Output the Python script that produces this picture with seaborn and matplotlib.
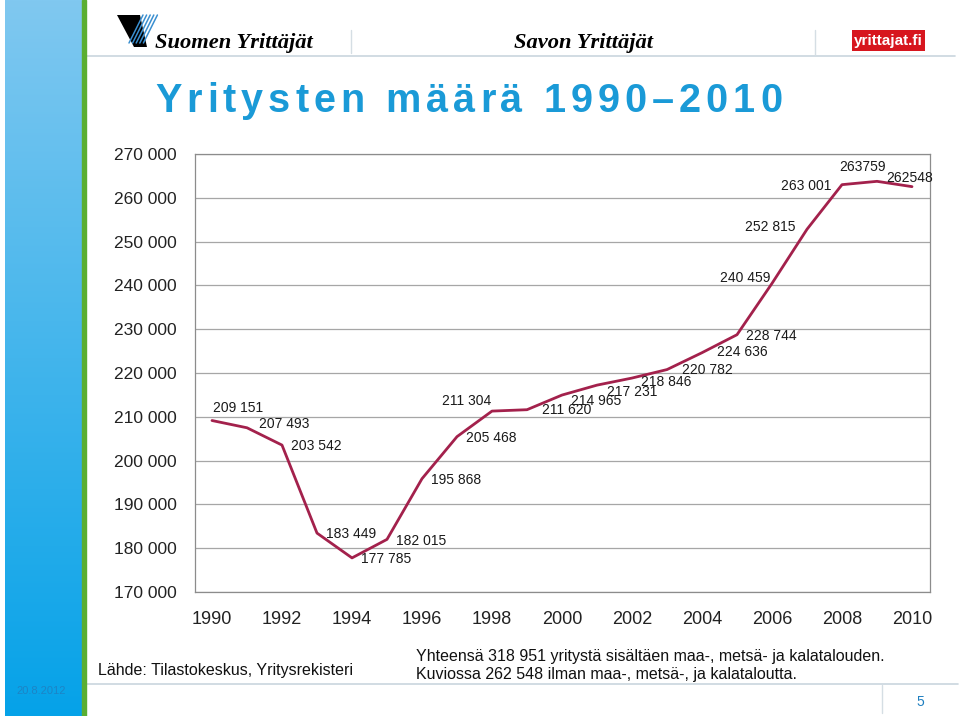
import matplotlib
matplotlib.use("Agg")
import matplotlib.pyplot as plt
import matplotlib.patches as mpatches
import matplotlib.lines as mlines
import numpy as np
import pandas as pd
import seaborn as sns

# ---- data ----
years = list(range(1990, 2011))
companies = [209151, 207493, 203542, 183449, 177785, 182015, 195868, 205468,
             211304, 211620, 214965, 217231, 218846, 220782, 224636, 228744,
             240459, 252815, 263001, 263759, 262548]
value_labels = ["209 151", "207 493", "203 542", "183 449", "177 785", "182 015",
                "195 868", "205 468", "211 304", "211 620", "214 965", "217 231",
                "218 846", "220 782", "224 636", "228 744", "240 459", "252 815",
                "263 001", "263759", "262548"]
y_ticks = [170000, 180000, 190000, 200000, 210000, 220000, 230000, 240000,
           250000, 260000, 270000]
x_ticks = list(range(1990, 2011, 2))

title = "Yritysten määrä 1990–2010"
source = "Lähde: Tilastokeskus, Yritysrekisteri"
note1 = "Yhteensä 318 951 yritystä sisältäen maa-, metsä- ja kalatalouden."
note2 = "Kuviossa 262 548 ilman maa-, metsä-, ja kalataloutta."

# label offsets in pixels (dx right, dy up)
label_offsets = [(26, 13), (37, 4), (34, -1), (34, -1), (34, -1), (34, -1.5),
                 (34, -1), (34, -1), (-25, 10), (40, 0), (34, -6), (35, -7),
                 (34, -4), (40, 0), (40, 1), (34, -1), (-27, 5), (-37, 2),
                 (-36, -1), (-15, 14), (-2, 9)]

sns.set_theme(style="white")
plt.rcParams['font.family'] = ['Liberation Sans', 'DejaVu Sans']

W, H = 960, 716
fig = plt.figure(figsize=(9.6, 7.16), dpi=100)
fig.patch.set_facecolor('white')


def fx(x):
    return x / W


def fy(y):
    return 1 - y / H


# ---- left decorative bar (gradient blue) ----
grad_ax = fig.add_axes([fx(5), 0, fx(82) - fx(5), 1])
grad = np.linspace(0, 1, 256).reshape(-1, 1)
top_c = np.array([0x80, 0xC8, 0xF0]) / 255
bot_c = np.array([0x05, 0xA2, 0xE8]) / 255
img = top_c[None, None, :] * (1 - grad[:, :, None]) + bot_c[None, None, :] * grad[:, :, None]
grad_ax.imshow(img, aspect='auto', extent=[0, 1, 0, 1])
grad_ax.set_axis_off()
fig.add_artist(mpatches.Rectangle((fx(82), 0), fx(4), 1, transform=fig.transFigure,
                                  color='#5AAE32', zorder=5))
fig.text(fx(41), fy(691), "20.8.2012", ha='center', va='center', fontsize=8,
         color='#1C84C6', zorder=6)

# ---- header ----
fig.add_artist(mlines.Line2D([fx(86), fx(955)], [fy(56), fy(56)], transform=fig.transFigure,
                             color='#C9D6DE', lw=1.2))
fig.add_artist(mlines.Line2D([fx(351), fx(351)], [fy(30), fy(53)], transform=fig.transFigure,
                             color='#D5DEE4', lw=1))
fig.add_artist(mlines.Line2D([fx(815), fx(815)], [fy(30), fy(55)], transform=fig.transFigure,
                             color='#D5DEE4', lw=1))
# logo
fig.add_artist(mpatches.Polygon([(fx(117), fy(15)), (fx(140), fy(15)), (fx(147), fy(47)),
                                 (fx(134), fy(47))], closed=True, transform=fig.transFigure,
                                color='black', lw=0))
for i in range(5):
    x0 = 143 + i * 3.6
    fig.add_artist(mlines.Line2D([fx(x0), fx(x0 - 14)], [fy(15), fy(43)],
                                 transform=fig.transFigure, color='#3A8FD0', lw=1.1))
fig.text(fx(155), fy(48), "Suomen Yrittäjät", fontsize=16.2, fontweight='bold',
         fontstyle='italic', family=['Liberation Serif', 'DejaVu Serif'],
         ha='left', va='baseline', color='black')
fig.text(fx(514), fy(48), "Savon Yrittäjät", fontsize=16.2, fontweight='bold',
         fontstyle='italic', family=['Liberation Serif', 'DejaVu Serif'],
         ha='left', va='baseline', color='black')
fig.add_artist(mpatches.Rectangle((fx(852), fy(51)), fx(73), (51 - 30) / H,
                                  transform=fig.transFigure, color='#D7161E', lw=0))
fig.text(fx(888.5), fy(41), "yrittajat.fi", fontsize=11, fontweight='bold',
         color='white', ha='center', va='center')

# ---- title with letter spacing ----
renderer = fig.canvas.get_renderer()
title_size = 28.5
chars = []
widths = []
space_w = 0.278 * title_size * 100 / 72
for ch in title:
    if ch == ' ':
        chars.append(None)
        widths.append(space_w)
    else:
        t = fig.text(0, fy(112), ch, fontsize=title_size, fontweight='bold',
                     color='#1A9AD7', ha='left', va='baseline')
        chars.append(t)
        widths.append(t.get_window_extent(renderer).width)
natural = sum(widths)
target = 782 - 155
spacing = (target - natural) / (len(title) - 1)
xpos = 155
for t, w in zip(chars, widths):
    if t is not None:
        t.set_x(fx(xpos))
    xpos += w + spacing

# ---- chart ----
ax = fig.add_axes([fx(194.5), fy(592), fx(929.5) - fx(194.5), fy(154) - fy(592)])
df = pd.DataFrame({"year": years, "companies": companies})
sns.lineplot(data=df, x="year", y="companies", ax=ax, color='#A3214C', lw=2.0)
ax.set_xlim(1989.5, 2010.5)
ax.set_ylim(170000, 270000)
ax.set_xlabel("")
ax.set_ylabel("")
ax.set_yticks(y_ticks)
ax.set_yticklabels([f"{v:,}".replace(",", " ") for v in y_ticks])
ax.set_xticks(x_ticks)
ax.set_xticklabels([str(y) for y in x_ticks])
ax.set_xticks(np.arange(1989.5, 2011, 1.0), minor=True)
ax.tick_params(axis='x', which='major', length=0, pad=14, labelsize=13, colors='#222222')
ax.tick_params(axis='x', which='minor', length=5, width=0.8, color='#8C8C8C', direction='out')
ax.tick_params(axis='y', which='major', length=6, width=0.8, color='#8C8C8C',
               direction='out', pad=7, labelsize=12.5, labelcolor='#222222')
ax.grid(axis='y', color='#A6A6A6', lw=0.9)
ax.set_axisbelow(True)
for side, sp in ax.spines.items():
    sp.set_visible(True)
    sp.set_color('#8C8C8C')
    sp.set_linewidth(0.9)
for lbl in ax.get_xticklabels() + ax.get_yticklabels():
    lbl.set_color('#222222')

for yr, v, lab, (dx, dy) in zip(years, companies, value_labels, label_offsets):
    ax.annotate(lab, xy=(yr, v), xytext=(dx * 0.72, dy * 0.72), textcoords='offset points',
                ha='center', va='center', fontsize=10, color='#1a1a1a')

# ---- footer ----
fig.add_artist(mlines.Line2D([fx(86), fx(958)], [fy(684), fy(684)], transform=fig.transFigure,
                             color='#C9D6DE', lw=1.2))
fig.add_artist(mlines.Line2D([fx(882), fx(882)], [fy(685), fy(713)], transform=fig.transFigure,
                             color='#D5DEE4', lw=1))
fig.text(fx(920), fy(702), "5", fontsize=10, color='#1E7FC0', ha='center', va='center')
fig.text(fx(98), fy(670), source, fontsize=11.5, color='#111111', ha='left', va='center')
fig.text(fx(416), fy(656), note1, fontsize=11.5, color='#111111', ha='left', va='center')
fig.text(fx(416), fy(674), note2, fontsize=11.5, color='#111111', ha='left', va='center')

fig.savefig("out.png", dpi=100, facecolor='white')
